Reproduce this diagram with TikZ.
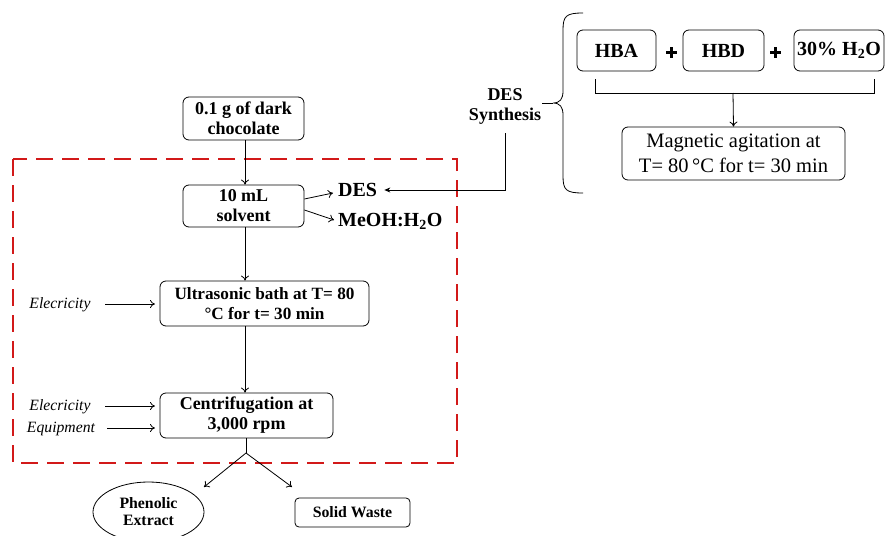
\documentclass[tikz,border=0pt]{standalone}
\usepackage{fontspec}
\setmainfont{Liberation Serif}
\usetikzlibrary{arrows.meta,shapes.geometric}
\definecolor{dashred}{RGB}{210,25,25}
\begin{document}
\begin{tikzpicture}[x=1pt,y=-1pt,
  box/.style={draw, rounded corners=6pt, line width=0.8pt, align=center, inner sep=0pt},
  arr/.style={-{To[length=5pt,width=8pt]}, line width=0.8pt},
  ln/.style={line width=0.8pt},
  bl/.style={font=\fontsize{18}{20}\selectfont\bfseries, align=center},
  blu/.style={font=\fontsize{17.2}{20}\selectfont\bfseries, align=center},
  big/.style={font=\fontsize{20}{22}\selectfont\bfseries, align=center},
  syn/.style={font=\fontsize{18}{20}\selectfont\bfseries, align=center},
  reg/.style={font=\fontsize{20.5}{25}\selectfont, align=center},
  ital/.style={font=\fontsize{15.7}{18}\selectfont\itshape},
  sm/.style={font=\fontsize{15.8}{17}\selectfont\bfseries, align=center}]
\useasboundingbox (0,0) rectangle (885,535);
\clip (0,0) rectangle (885,535);

% dashed frame
\draw[dashred, line width=1.8pt, dash pattern=on 17pt off 9pt] (13,159) rectangle (457,463);

% main chain
\node[box, bl, minimum width=121pt, minimum height=43pt] (choc) at (243.5,118.5) {0.1 g of dark\\chocolate};
\node[box, bl, minimum width=121pt, minimum height=42pt] (solv) at (243.5,206) {10 mL\\solvent};
\node[box, blu, minimum width=209pt, minimum height=45pt] (ultra) at (264.5,303.5) {Ultrasonic bath at T= 80\\°C for t= 30 min};
\node[box, bl, minimum width=173pt, minimum height=45pt] (centr) at (246.5,415.5) {Centrifugation at\\3,000 rpm};

\draw[arr] (choc.south -| 245,0) -- (solv.north -| 245,0);
\draw[arr] (solv.south -| 245,0) -- (ultra.north -| 245,0);
\draw[arr] (ultra.south -| 245,0) -- (centr.north -| 245,0);

% solvents
\node[big, anchor=west, inner sep=0pt] (des) at (338,190) {DES};
\node[big, anchor=west, inner sep=0pt] (meoh) at (338,221) {MeOH:H\textsubscript{2}O};
\draw[arr] ([yshift=7pt]solv.east) -- ([xshift=-5pt,yshift=-3pt]des.west);
\draw[arr] ([yshift=-4pt]solv.east) -- ([xshift=-4pt,yshift=1pt]meoh.west);

% inputs
\node[ital] (e1) at (60,305) {Elecricity};
\node[ital] (e2) at (60,407) {Elecricity};
\node[ital] (e3) at (61,429) {Equipment};
\draw[arr] (105,304) -- (155,304);
\draw[arr] (105,406) -- (155,406);
\draw[arr] (107,428) -- (155,428);

% outputs
\coordinate (split) at (246,453);
\coordinate (pe) at (204,487);
\coordinate (swc) at (292,487);
\draw[ln] (centr.south -| split) -- (split);
\draw[arr] (split) -- (pe);
\draw[arr] (split) -- (swc);
\node[draw, ellipse, line width=0.8pt, minimum width=111pt, minimum height=60pt, inner sep=0pt, sm] (phen) at (148.5,512) {Phenolic\\Extract};
\node[box, sm, rounded corners=4pt, minimum width=115pt, minimum height=29pt] (sw) at (352.5,512.5) {Solid Waste};

% DES synthesis
\node[syn] (dessyn) at (505,106) {DES\\Synthesis};
\coordinate (tip) at (553,103);
\draw[ln] (583,13) .. controls (566,13) and (563,16) .. (563,30) -- (563,91)
  .. controls (563,99) and (560,103) .. (tip)
  .. controls (560,103) and (563,107) .. (563,115) -- (563,176)
  .. controls (563,190) and (566,193) .. (583,193);
\draw[ln] (542,103) -- (tip);
\coordinate (dv) at (505,133);
\draw[line width=0.8pt, -{Stealth[length=6pt,width=5pt]}] (dv) |- ([xshift=7pt,yshift=0pt]des.east);

\node[box, big, minimum width=79pt, minimum height=41pt] (hba) at (616.5,50.5) {HBA};
\node[box, big, minimum width=81pt, minimum height=41pt] (hbd) at (723.5,50.5) {HBD};
\node[box, big, minimum width=90pt, minimum height=41pt] (h2o) at (839,50.5) {30\% H\textsubscript{2}O};
\draw[line width=3pt] (666,53) -- (677,53) (671.5,47.5) -- (671.5,58.5);
\draw[line width=3pt] (770,53) -- (781,53) (775.5,47.5) -- (775.5,58.5);

\coordinate (bra) at (595,79);
\coordinate (brb) at (874,79);
\coordinate (brm) at (733,93);
\draw[ln] (bra) |- (brb |- brm) -- (brb);
\node[box, reg, minimum width=223pt, minimum height=53pt] (mag) at (733.5,153.5) {Magnetic agitation at\\T= 80\,°C for t= 30 min};
\draw[arr] (brm) -- (mag.north);
\end{tikzpicture}
\end{document}
